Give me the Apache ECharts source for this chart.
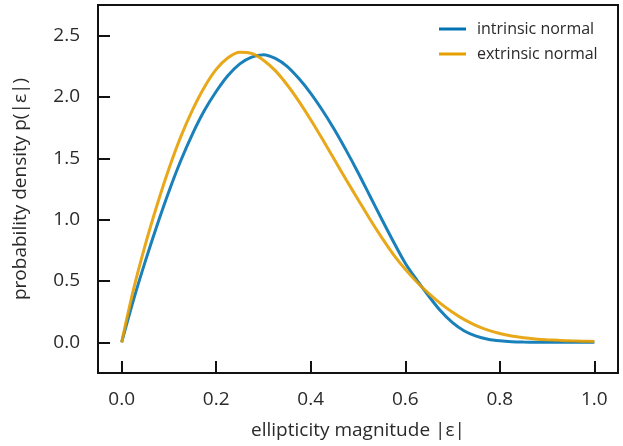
<!DOCTYPE html>
<html>
<head>
<meta charset="utf-8">
<script src="https://cdn.jsdelivr.net/npm/echarts@6/dist/echarts.min.js"></script>
<style>
  html, body { margin: 0; padding: 0; background: #fff; }
  #chart { width: 623px; height: 446px; }
</style>
</head>
<body>
<div id="chart"></div>
<script>
const xs = [0, 0.025, 0.05, 0.075, 0.1, 0.125, 0.15, 0.175, 0.2, 0.225, 0.25, 0.275, 0.3, 0.325, 0.35, 0.375,
    0.4, 0.425, 0.45, 0.475, 0.5, 0.525, 0.55, 0.575, 0.6, 0.625, 0.65, 0.675, 0.7, 0.725, 0.75, 0.775,
    0.8, 0.825, 0.85, 0.875, 0.9, 0.925, 0.95, 0.975, 1.0]

const intrinsic = [0, 0.345, 0.66, 0.955, 1.23, 1.48, 1.70, 1.89, 2.045, 2.175, 2.27, 2.325, 2.345, 2.315, 2.25, 2.15,
    2.03, 1.89, 1.735, 1.565, 1.385, 1.195, 1.005, 0.82, 0.645, 0.505, 0.375, 0.255, 0.16, 0.092, 0.05, 0.025,
    0.012, 0.005, 0.002, 0.001, 0, 0, 0, 0, 0]

const extrinsic = [0, 0.43, 0.795, 1.12, 1.415, 1.675, 1.895, 2.08, 2.225, 2.32, 2.365, 2.355, 2.30, 2.215, 2.10, 1.965,
    1.815, 1.655, 1.49, 1.325, 1.165, 1.005, 0.855, 0.715, 0.595, 0.49, 0.397, 0.315, 0.245, 0.185, 0.137, 0.1,
    0.072, 0.052, 0.038, 0.028, 0.021, 0.016, 0.012, 0.009, 0.007]

const xTicks = [0, 0.2, 0.4, 0.6, 0.8, 1.0]
const yTicks = [0, 0.5, 1.0, 1.5, 2.0, 2.5]

const font = 'Open Sans'
const ink = '#2a2a2a'

const chart = echarts.init(document.getElementById('chart'))

const pairs = (ys) => xs.map((x, i) => [x, ys[i]])

chart.setOption({
    animation: false,
    grid: {
        left: 98, right: 5, top: 5, bottom: 73,
        show: true,
        borderColor: '#111',
        borderWidth: 2
    },
    legend: {
        orient: 'vertical',
        left: 434,
        top: 14,
        icon: 'rect',
        itemWidth: 27,
        itemHeight: 3,
        itemGap: 5,
        textStyle: {
            fontFamily: font,
            fontSize: 16,
            color: ink,
            lineHeight: 20,
            padding: [0, 0, 0, 6]
        },
        data: ['intrinsic normal', 'extrinsic normal']
    },
    xAxis: {
        type: 'value',
        min: -0.05,
        max: 1.05,
        name: 'ellipticity magnitude |ε|',
        nameLocation: 'middle',
        nameGap: 48,
        nameTextStyle: { fontFamily: font, fontSize: 19, color: ink },
        axisLine: { onZero: false, lineStyle: { color: '#111', width: 2 } },
        axisTick: { inside: true, length: 12, lineStyle: { width: 2, color: '#111' }, customValues: xTicks },
        axisLabel: {
            customValues: xTicks,
            margin: 17,
            fontFamily: font,
            fontSize: 19,
            color: ink,
            formatter: (v) => v.toFixed(1)
        },
        splitLine: { show: false }
    },
    yAxis: {
        type: 'value',
        min: -0.25,
        max: 2.75,
        name: 'probability density p(|ε|)',
        nameLocation: 'middle',
        nameGap: 68,
        nameTextStyle: { fontFamily: font, fontSize: 19, color: ink },
        axisLine: { onZero: false, lineStyle: { color: '#111', width: 2 } },
        axisTick: { inside: true, length: 12, lineStyle: { width: 2, color: '#111' }, customValues: yTicks },
        axisLabel: {
            customValues: yTicks,
            margin: 18,
            fontFamily: font,
            fontSize: 19,
            color: ink,
            formatter: (v) => v.toFixed(1)
        },
        splitLine: { show: false }
    },
    series: [
        {
            name: 'intrinsic normal',
            type: 'line',
            data: pairs(intrinsic),
            smooth: 0.3,
            showSymbol: false,
            color: '#0072B2',
            lineStyle: { width: 3, opacity: 0.9 }
        },
        {
            name: 'extrinsic normal',
            type: 'line',
            data: pairs(extrinsic),
            smooth: 0.3,
            showSymbol: false,
            color: '#E69F00',
            lineStyle: { width: 3, opacity: 0.9 }
        }
    ]
})
</script>
</body>
</html>
